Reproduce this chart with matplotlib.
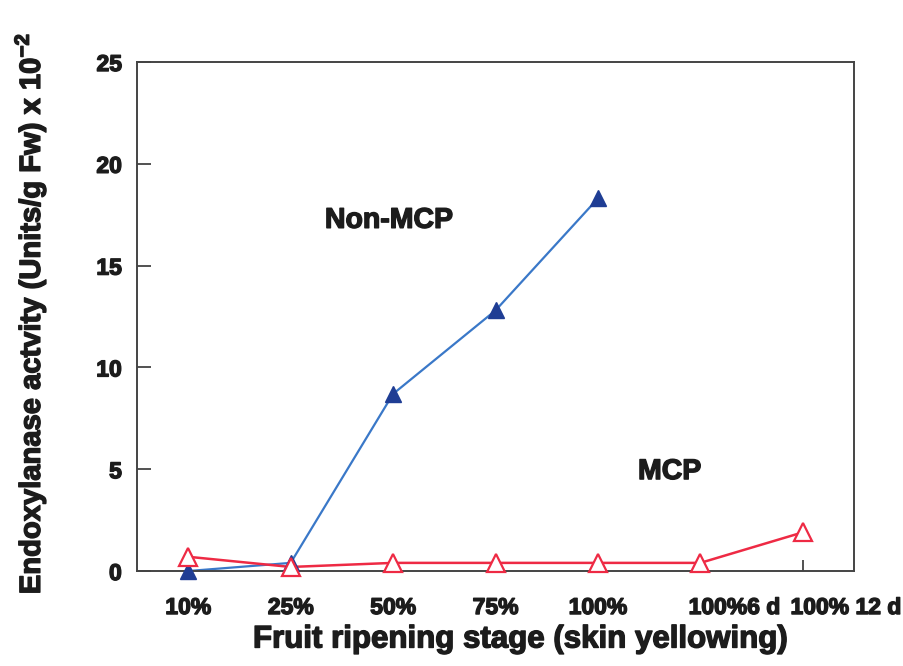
import numpy as np
import matplotlib.pyplot as plt
import matplotlib.patheffects as pe
from matplotlib.transforms import ScaledTranslation

plt.rcParams['font.family'] = ['Liberation Sans', 'DejaVu Sans']
plt.rcParams['font.weight'] = 'bold'
plt.rcParams['mathtext.fontset'] = 'custom'
plt.rcParams['mathtext.rm'] = 'Liberation Sans:bold'
plt.rcParams['mathtext.bf'] = 'Liberation Sans:bold'

stages = ['10%', '25%', '50%', '75%', '100%', '100%6 d', '100% 12 d']
non_mcp = [0.0, 0.4, 8.7, 12.8, 18.3]
mcp = [0.7, 0.2, 0.4, 0.4, 0.4, 0.4, 1.9]

x = np.arange(len(stages))
ink = '#1c1c1c'
heavy = [pe.withStroke(linewidth=1.0, foreground=ink)]

fig = plt.figure(figsize=(9.04, 6.66), dpi=100)
ax = fig.add_axes([0.1516, 0.1426, 0.7931, 0.7643])

ax.plot(x[:len(non_mcp)], non_mcp, '-', color='#3a78c8', lw=1.6, zorder=2)
ax.plot(x[:len(non_mcp)], non_mcp, '^', color='#1f3d94', ms=12, mec='#1f3d94', zorder=3, clip_on=False)
ax.plot(x, mcp, '-', color='#ee2a44', lw=1.8, zorder=2)
ax.plot(x, mcp, '^', ms=13, mfc='white', mec='#ee2a44', mew=1.6, zorder=3, clip_on=False)

ax.set_xlim(-0.5, 6.5)
ax.set_ylim(0, 25)
ax.set_yticks([0, 5, 10, 15, 20, 25])
ax.set_xticks(x)
ax.set_xticklabels(stages)

ax.tick_params(axis='both', direction='in', colors='#333333', labelcolor=ink,
               labelsize=16.5, width=1.2)
ax.tick_params(axis='y', length=10, pad=11)
ax.tick_params(axis='x', length=8, pad=18)
for lab in ax.get_xticklabels() + ax.get_yticklabels():
    lab.set_fontweight('bold')
    lab.set_path_effects(heavy)

# the last two stage labels sit to the right of their ticks
xlabs = ax.get_xticklabels()
for lab, dx in [(xlabs[5], 34), (xlabs[6], 43)]:
    lab.set_transform(lab.get_transform() + ScaledTranslation(dx / 100, 0, fig.dpi_scale_trans))

for s in ax.spines.values():
    s.set_color('#444444')
    s.set_linewidth(1.4)

ax.set_xlabel('Fruit ripening stage (skin yellowing)', fontsize=22.5, fontweight='bold',
              color=ink, path_effects=heavy)
ax.xaxis.set_label_coords(0.534, -0.105)
ax.set_ylabel(r'Endoxylanase actvity (Units/g Fw) x 10$^{-2}$', fontsize=21,
              fontweight='bold', color=ink, path_effects=heavy)
ax.yaxis.set_label_coords(-0.124, 0.505)

ax.text(1.96, 17.2, 'Non-MCP', fontsize=20.5, fontweight='bold', ha='center', va='center',
        color=ink, path_effects=heavy)
ax.text(4.70, 4.86, 'MCP', fontsize=20.5, fontweight='bold', ha='center', va='center',
        color=ink, path_effects=heavy)

fig.savefig('out.png', dpi=100)
